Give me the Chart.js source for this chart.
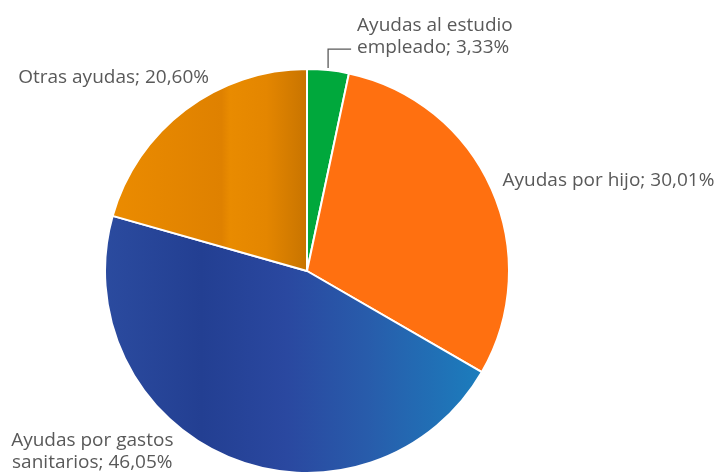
<!DOCTYPE html>
<html>
<head>
<meta charset="utf-8">
<script src="https://cdn.jsdelivr.net/npm/chart.js@4"></script>
<style>
  html, body { margin: 0; padding: 0; background: #fff; overflow: hidden; }
  #wrap { width: 717px; height: 474px; }
</style>
</head>
<body>
<div id="wrap"><canvas id="pie"></canvas></div>
<script>
const categories = ['Ayudas al estudio empleado', 'Ayudas por hijo', 'Ayudas por gastos sanitarios', 'Otras ayudas'];
const shares = [3.33, 30.01, 46.05, 20.60];
const labelLines = [
    ['Ayudas al estudio', 'empleado; 3,33%'],
    ['Ayudas por hijo; 30,01%'],
    ['Ayudas por gastos', 'sanitarios; 46,05%'],
    ['Otras ayudas; 20,60%']
];

// label placement relative to the outer midpoint of each slice
const labelPlace = [
    { dx: 29, dy: -39, align: 'left', leader: true },
    { dx: 11, dy: -3, align: 'left' },
    { dx: -136, dy: -11, align: 'center' },
    { dx: -167, dy: -27, align: 'left' }
];

function sliceFill(ctx) {
    const chart = ctx.chart;
    const area = chart.chartArea;
    if (!area) return '#888';
    const g = chart.ctx.createLinearGradient(area.left, 0, area.right, 0);
    if (ctx.dataIndex === 0) return '#00a83c';
    if (ctx.dataIndex === 1) return '#ff7010';
    if (ctx.dataIndex === 2) {
        g.addColorStop(0, '#2b4b9f');
        g.addColorStop(0.24, '#233f92');
        g.addColorStop(0.45, '#2a48a0');
        g.addColorStop(0.65, '#285cab');
        g.addColorStop(0.92, '#1c7cbc');
        g.addColorStop(1, '#1a82c2');
        return g;
    }
    g.addColorStop(0, '#ec8c00');
    g.addColorStop(0.29, '#df8100');
    g.addColorStop(0.31, '#e98b00');
    g.addColorStop(0.4, '#e48600');
    g.addColorStop(0.5, '#c87400');
    g.addColorStop(1, '#c87400');
    return g;
}

const outsideLabels = {
    id: 'outsideLabels',
    afterDraw(chart) {
        const c = chart.ctx;
        const arcs = chart.getDatasetMeta(0).data;
        c.save();
        c.fillStyle = '#595959';
        c.strokeStyle = '#595959';
        c.lineWidth = 1.3;
        c.font = '19px "Open Sans"';
        c.textBaseline = 'alphabetic';
        arcs.forEach((arc, i) => {
            const p = arc.getProps(['x', 'y', 'startAngle', 'endAngle', 'outerRadius'], true);
            const mid = (p.startAngle + p.endAngle) / 2;
            const ax = p.x + Math.cos(mid) * p.outerRadius;
            const ay = p.y + Math.sin(mid) * p.outerRadius;
            const pl = labelPlace[i];
            const tx = ax + pl.dx;
            const ty = ay + pl.dy;
            if (pl.leader) {
                c.beginPath();
                c.moveTo(ax, ay - 2);
                c.lineTo(ax, ty + 18);
                c.lineTo(tx - 6, ty + 18);
                c.stroke();
            }
            c.textAlign = pl.align;
            labelLines[i].forEach((line, k) => {
                c.fillText(line, tx, ty + k * 22);
            });
        });
        c.restore();
    }
};

new Chart(document.getElementById('pie'), {
    type: 'pie',
    data: {
        labels: categories,
        datasets: [{
            data: shares,
            backgroundColor: sliceFill,
            borderColor: '#ffffff',
            borderWidth: 2
        }]
    },
    options: {
        responsive: true,
        maintainAspectRatio: false,
        animation: false,
        layout: { padding: { left: 104, right: 207, top: 68, bottom: 0 } },
        plugins: {
            legend: { display: false },
            tooltip: { enabled: false }
        }
    },
    plugins: [outsideLabels]
});
</script>
</body>
</html>
